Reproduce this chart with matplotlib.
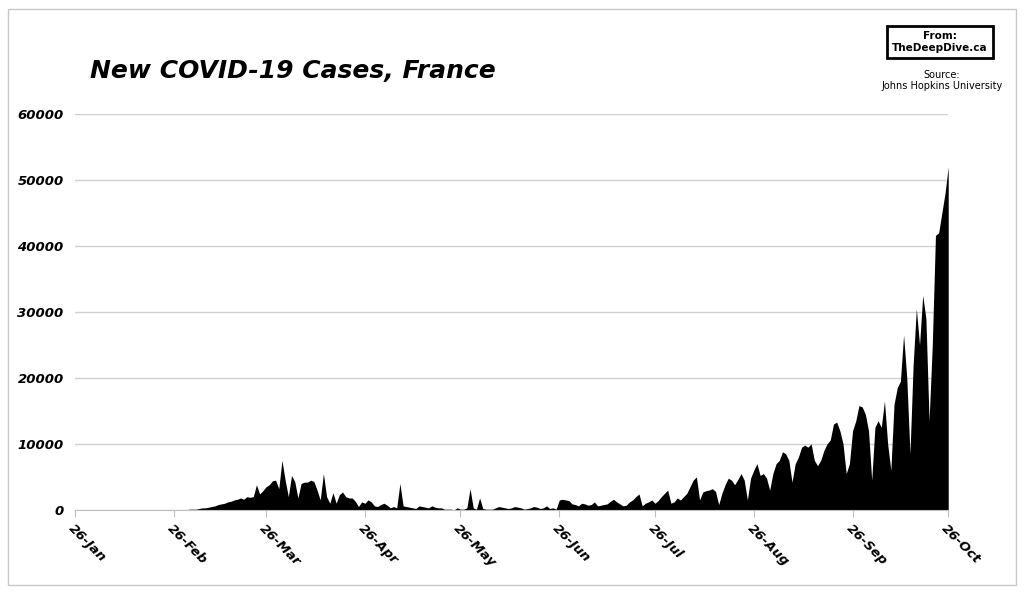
import matplotlib
matplotlib.use("Agg")
import matplotlib.pyplot as plt
import numpy as np
import datetime as dt

seg_feb_mar = [0,0,0,0,0,0.1,0.1,0.1,0.2,0.3,0.3,0.4,0.5,0.6,0.8,0.9,1.0,1.2,1.3,1.5,1.6,1.8,1.6,2.0,1.9,2.0,3.8,2.4,2.9]
seg_mar_apr = [3.5,3.8,4.4,4.5,3.2,7.5,4.5,2.0,5.2,4.3,1.8,4.0,4.2,4.2,4.5,4.3,3.0,1.5,5.5,2.0,1.0,2.6,1.0,2.3,2.7,2.0,1.8,1.8,1.3,0.5,1.2]
seg_apr_may = [1.0,1.5,1.2,0.6,0.5,0.8,1.0,0.7,0.3,0.5,0.3,4.0,0.6,0.5,0.4,0.3,0.2,0.6,0.5,0.4,0.3,0.6,0.4,0.3,0.3,0.1,0.1,0.1,0.0,0.3]
seg_may_jun = [0.1,0.1,0.3,3.2,0.3,0.1,1.8,0.2,0.1,0.1,0.1,0.3,0.5,0.4,0.3,0.2,0.3,0.5,0.4,0.3,0.1,0.2,0.3,0.5,0.4,0.2,0.3,0.6,0.2,0.3,0.1]
seg_jun_jul = [1.5,1.6,1.5,1.4,0.9,0.8,0.6,1.0,0.9,0.7,0.8,1.2,0.6,0.7,0.8,0.9,1.3,1.6,1.2,0.9,0.6,0.7,1.2,1.5,2.0,2.4,0.6,1.0,1.2,1.5]
seg_jul_aug = [1.0,1.4,2.0,2.5,3.0,1.0,1.2,1.8,1.5,2.0,2.5,3.5,4.5,5.0,1.5,2.7,2.9,3.0,3.2,2.8,0.8,2.5,3.8,4.8,4.5,3.8,4.6,5.5,4.5,1.5,4.8]
seg_aug_sep = [6.0,7.0,5.2,5.5,4.8,3.0,5.5,7.0,7.5,8.8,8.5,7.5,4.2,7.0,8.0,9.5,9.8,9.5,10.0,7.5,6.7,7.5,9.0,10.0,10.6,13.0,13.3,12.0,10.0,5.5,7.0]
seg_sep_oct = [12,13.5,15.8,15.6,14.5,12,4.5,12.5,13.5,12.5,16.5,10,6,16,18.5,19.5,26.5,20,8.5,22,30.5,25,32.5,29,13.5,25,41.6,42,45,48,52]

values = [0]*31 + seg_feb_mar + seg_mar_apr + seg_apr_may + seg_may_jun + seg_jun_jul + seg_jul_aug + seg_aug_sep + seg_sep_oct
values = np.array(values) * 1000
start = dt.date(2020, 1, 26)
days = np.arange(len(values))

tick_labels = ["26-Jan","26-Feb","26-Mar","26-Apr","26-May","26-Jun","26-Jul","26-Aug","26-Sep","26-Oct"]
tick_dates = [dt.date(2020, m, 26) for m in range(1, 11)]
tick_pos = [(d - start).days for d in tick_dates]

fig = plt.figure(figsize=(10.24, 5.97), dpi=100)
ax = fig.add_axes([0.073, 0.146, 0.853, 0.663])
ax.fill_between(days, values, 0, color="black", lw=0)
ax.set_xlim(0, tick_pos[-1])
ax.set_ylim(0, 60000)
ax.set_yticks(range(0, 60001, 10000))
ax.set_yticklabels([str(v) for v in range(0, 60001, 10000)], fontsize=9.5, fontweight="bold", style="italic")
ax.set_xticks(tick_pos)
ax.set_xticklabels(tick_labels, rotation=-45, ha="left", rotation_mode="anchor", fontsize=9.5, fontweight="bold", style="italic")
ax.grid(axis="y", color="#d0d0d0", lw=1)
ax.set_axisbelow(True)
for s in ["top", "right", "left"]:
    ax.spines[s].set_visible(False)
ax.spines["bottom"].set_color("#bfbfbf")
ax.tick_params(axis="y", length=0, pad=8)
ax.tick_params(axis="x", color="#bfbfbf", length=5)

fig.text(0.088, 0.87, "New COVID-19 Cases, France", fontsize=18, fontweight="bold", style="italic")
fig.text(0.918, 0.93, "From:\nTheDeepDive.ca", fontsize=7.5, fontweight="bold", ha="center", va="center",
         bbox=dict(boxstyle="square,pad=0.5", fc="white", ec="black", lw=2))
fig.text(0.92, 0.865, "Source:\nJohns Hopkins University", fontsize=7, ha="center", va="center", multialignment="center")
fig.patches.append(plt.Rectangle((0.008, 0.02), 0.984, 0.965, transform=fig.transFigure, fill=False, ec="#c8c8c8", lw=1))
fig.savefig("out.png", dpi=100)
